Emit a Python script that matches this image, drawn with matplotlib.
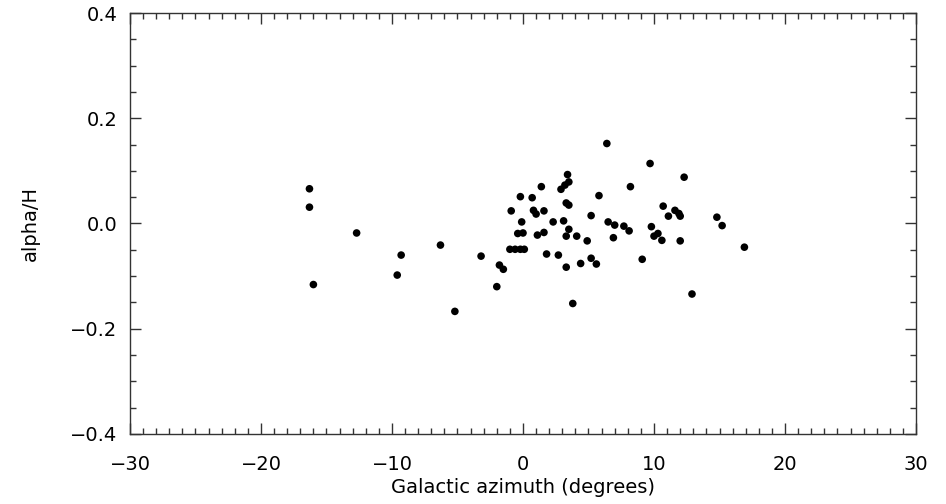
import numpy as np
import matplotlib
matplotlib.use("Agg")
import matplotlib.pyplot as plt
from matplotlib.ticker import MultipleLocator

# azimuth (deg) and alpha/H
azimuth = [-16.3, -16.3, -16.0, -12.7, -9.3, -9.6, -6.3, -5.2,
           6.4, 9.7, 12.3, 3.4, 3.5, 3.2, 2.9, 1.4, 8.2,
           -0.2, 0.7, 5.8, 3.3, 3.5, 10.7, -0.9, 0.8, 1.0, 1.6,
           11.6, 11.9, 12.0, 11.1, 14.8, 15.2,
           -0.1, 2.3, 3.1, 5.2, 6.5, 7.0, 7.7, 8.1, 9.8, 10.0,
           10.3, 10.6, 12.0, -0.4, 0.0, 1.1, 1.6, 3.5, 3.3, 4.1,
           4.9, 6.9, -1.0, -0.6, -0.2, 0.1, -3.2, 1.8, 2.7,
           -1.8, -1.5, 3.3, 4.4, 5.2, 5.6, 9.1, -2.0, 3.8, 12.9, 16.9]
alpha_h = [0.066, 0.031, -0.116, -0.018, -0.060, -0.098, -0.041, -0.167,
           0.152, 0.114, 0.088, 0.093, 0.079, 0.073, 0.065, 0.070, 0.070,
           0.051, 0.049, 0.053, 0.039, 0.035, 0.033, 0.024, 0.025, 0.018, 0.024,
           0.025, 0.019, 0.014, 0.014, 0.012, -0.004,
           0.003, 0.003, 0.005, 0.015, 0.003, -0.003, -0.005, -0.014, -0.006, -0.024,
           -0.019, -0.032, -0.033, -0.019, -0.018, -0.022, -0.017, -0.011, -0.024, -0.024,
           -0.033, -0.027, -0.049, -0.049, -0.049, -0.049, -0.062, -0.058, -0.060,
           -0.079, -0.087, -0.083, -0.076, -0.066, -0.077, -0.068, -0.120, -0.152, -0.134, -0.045]

fig = plt.figure(figsize=(9.46, 5.04), dpi=100)
ax = fig.add_axes([0.1374, 0.1389, 0.8309, 0.8353])

ax.scatter(azimuth, alpha_h, s=30, color='black', edgecolors='none', zorder=3)

ax.set_xlim(-30, 30)
ax.set_ylim(-0.4, 0.4)
ax.xaxis.set_major_locator(MultipleLocator(10))
ax.xaxis.set_minor_locator(MultipleLocator(1))
ax.yaxis.set_major_locator(MultipleLocator(0.2))
ax.yaxis.set_minor_locator(MultipleLocator(0.05))
ax.tick_params(which='both', direction='in', top=True, right=True,
               colors='#333333', labelcolor='black', labelsize=14, width=1)
ax.tick_params(which='major', length=8)
ax.tick_params(which='minor', length=4)
ax.tick_params(axis='x', which='major', pad=15)
ax.tick_params(axis='y', which='major', pad=9)
for s in ax.spines.values():
    s.set_color('#333333')
    s.set_linewidth(1)
ax.set_yticklabels([('%.1f' % v).replace('-', '\u2212') if abs(v) > 1e-9 else '0.0'
                    for v in ax.get_yticks()])

ax.set_xlabel('Galactic azimuth (degrees)', fontsize=14, labelpad=3)
ax.set_ylabel('alpha/H', fontsize=14, labelpad=22)

fig.savefig('out.png', dpi=100)
